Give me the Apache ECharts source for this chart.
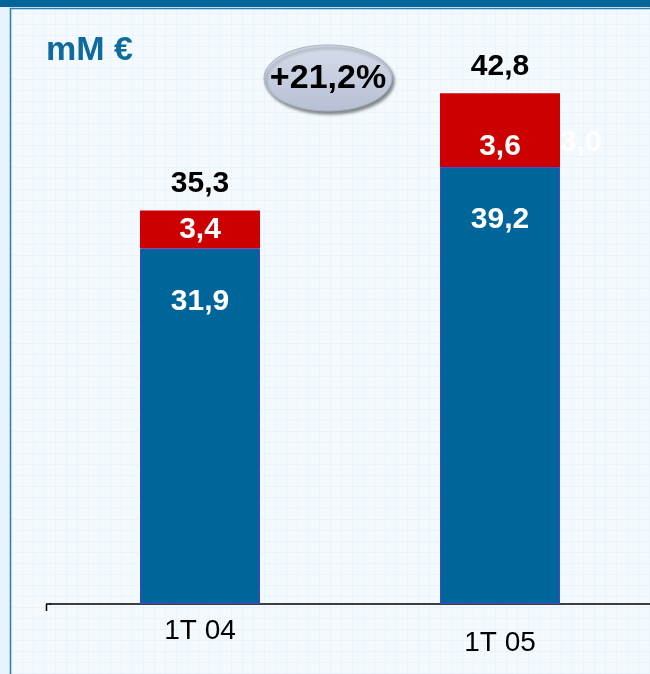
<!DOCTYPE html>
<html>
<head>
<meta charset="utf-8">
<script src="https://cdn.jsdelivr.net/npm/echarts@6/dist/echarts.min.js"></script>
<style>
  html, body { margin: 0; padding: 0; }
  #chart {
    width: 650px; height: 674px;
    background-color: #f4f9fd;
    background-image:
      repeating-linear-gradient(0deg, rgba(215,232,247,0.3) 0 1px, transparent 1px 11px),
      repeating-linear-gradient(90deg, rgba(215,232,247,0.3) 0 1px, transparent 1px 11px);
  }
</style>
</head>
<body>
<div id="chart"></div>
<script>
// data
var categories = ['1T 04', '1T 05'];
var baseValues = [31.9, 39.2];     // blue part
var redValues = [3.4, 3.6];        // red part
var extraValues = [0, 3.0];        // hidden red part (white label)
var totals = [35.3, 42.8];
var growthText = '+21,2%';
var unitText = 'mM €';

function fmt(v) { return v.toFixed(1).replace('.', ','); }

var chart = echarts.init(document.getElementById('chart'));

var labelFont = { fontFamily: 'Liberation Sans, Arial, sans-serif', fontWeight: 'bold', fontSize: 30 };

var opt = {
    backgroundColor: 'transparent',
    animation: false,
    grid: { left: 50, right: 0, top: 46.5, bottom: 70 },
    xAxis: {
        type: 'category',
        data: categories.map(function (c, i) {
            return { value: c, textStyle: { padding: [i * 12, 0, 0, 0] } };
        }),
        axisLine: { lineStyle: { color: '#000', width: 1.5 } },
        axisTick: { show: false },
        axisLabel: {
            color: '#000', fontSize: 28, margin: 13,
            fontFamily: 'Liberation Sans, Arial, sans-serif'
        }
    },
    yAxis: {
        type: 'value', min: 0, max: 50,
        show: false
    },
    series: [
        {
            name: 'base', type: 'bar', stack: 'a', barWidth: 120,
            data: baseValues,
            itemStyle: { color: '#006699', borderColor: '#4a3fd0', borderWidth: 1 },
            label: Object.assign({
                show: true, position: 'insideTop', distance: 38, color: '#fff',
                formatter: function (p) { return fmt(p.value); }
            }, labelFont)
        },
        {
            name: 'red', type: 'bar', stack: 'a',
            data: redValues,
            itemStyle: { color: '#cc0000' },
            label: Object.assign({
                show: true, position: 'inside', color: '#fff',
                formatter: function (p) { return fmt(p.value); }
            }, labelFont)
        },
        {
            name: 'extra', type: 'bar', stack: 'a',
            data: extraValues,
            // shadow hides the antialiased seam with the red part below
            itemStyle: { color: '#cc0000', shadowColor: '#cc0000', shadowBlur: 0, shadowOffsetY: 2 },
            label: Object.assign({
                show: true, position: 'right', distance: 0, offset: [0, 33], color: '#fff',
                formatter: function (p) { return p.value ? fmt(p.value) : ''; }
            }, labelFont)
        },
        {
            name: 'total', type: 'bar', stack: 'a',
            data: totals.map(function () { return 0; }),
            itemStyle: { color: 'transparent' },
            label: Object.assign({
                show: true, position: 'top', distance: 12, color: '#000',
                formatter: function (p) { return fmt(totals[p.dataIndex]); }
            }, labelFont)
        }
    ],
    graphic: [
        { type: 'rect', shape: { x: 0, y: 0, width: 10, height: 674 }, style: { fill: '#e6f3fc' }, z: 1 },
        { type: 'rect', shape: { x: 0, y: 0, width: 650, height: 7 }, style: { fill: '#00669a' }, z: 1 },
        { type: 'polyline', shape: { points: [[10.5, 674], [10.5, 8.5], [650, 8.5]] },
          style: { stroke: '#2a7db0', lineWidth: 1.5, fill: null }, z: 1 },
        { type: 'line', shape: { x1: 46.5, y1: 604, x2: 46.5, y2: 611 },
          style: { stroke: '#000', lineWidth: 1.5 }, z: 5 },
        { type: 'line', shape: { x1: 46, y1: 604, x2: 51, y2: 604 },
          style: { stroke: '#000', lineWidth: 1.5 }, z: 5 },
        { type: 'text', left: 46, top: 34,
          style: { text: unitText, fill: '#0f6a9e', font: 'bold 34px Liberation Sans, Arial, sans-serif' } },
        { type: 'ellipse', shape: { cx: 328, cy: 78, rx: 64, ry: 33 },
          style: {
              fill: new echarts.graphic.LinearGradient(0, 0, 0, 1, [
                  { offset: 0, color: '#d6dcea' }, { offset: 1, color: '#b6c0d4' }
              ]),
              stroke: '#a9b3c6', lineWidth: 1,
              shadowBlur: 3, shadowOffsetX: 2, shadowOffsetY: 3, shadowColor: 'rgba(60,60,60,0.6)'
          }, z: 10 },
        { type: 'text', x: 328, y: 79, z: 11,
          style: { text: growthText, fill: '#000', align: 'center', verticalAlign: 'middle',
                   font: 'bold 34px Liberation Sans, Arial, sans-serif' } }
    ]
};

chart.setOption(opt);
</script>
</body>
</html>
